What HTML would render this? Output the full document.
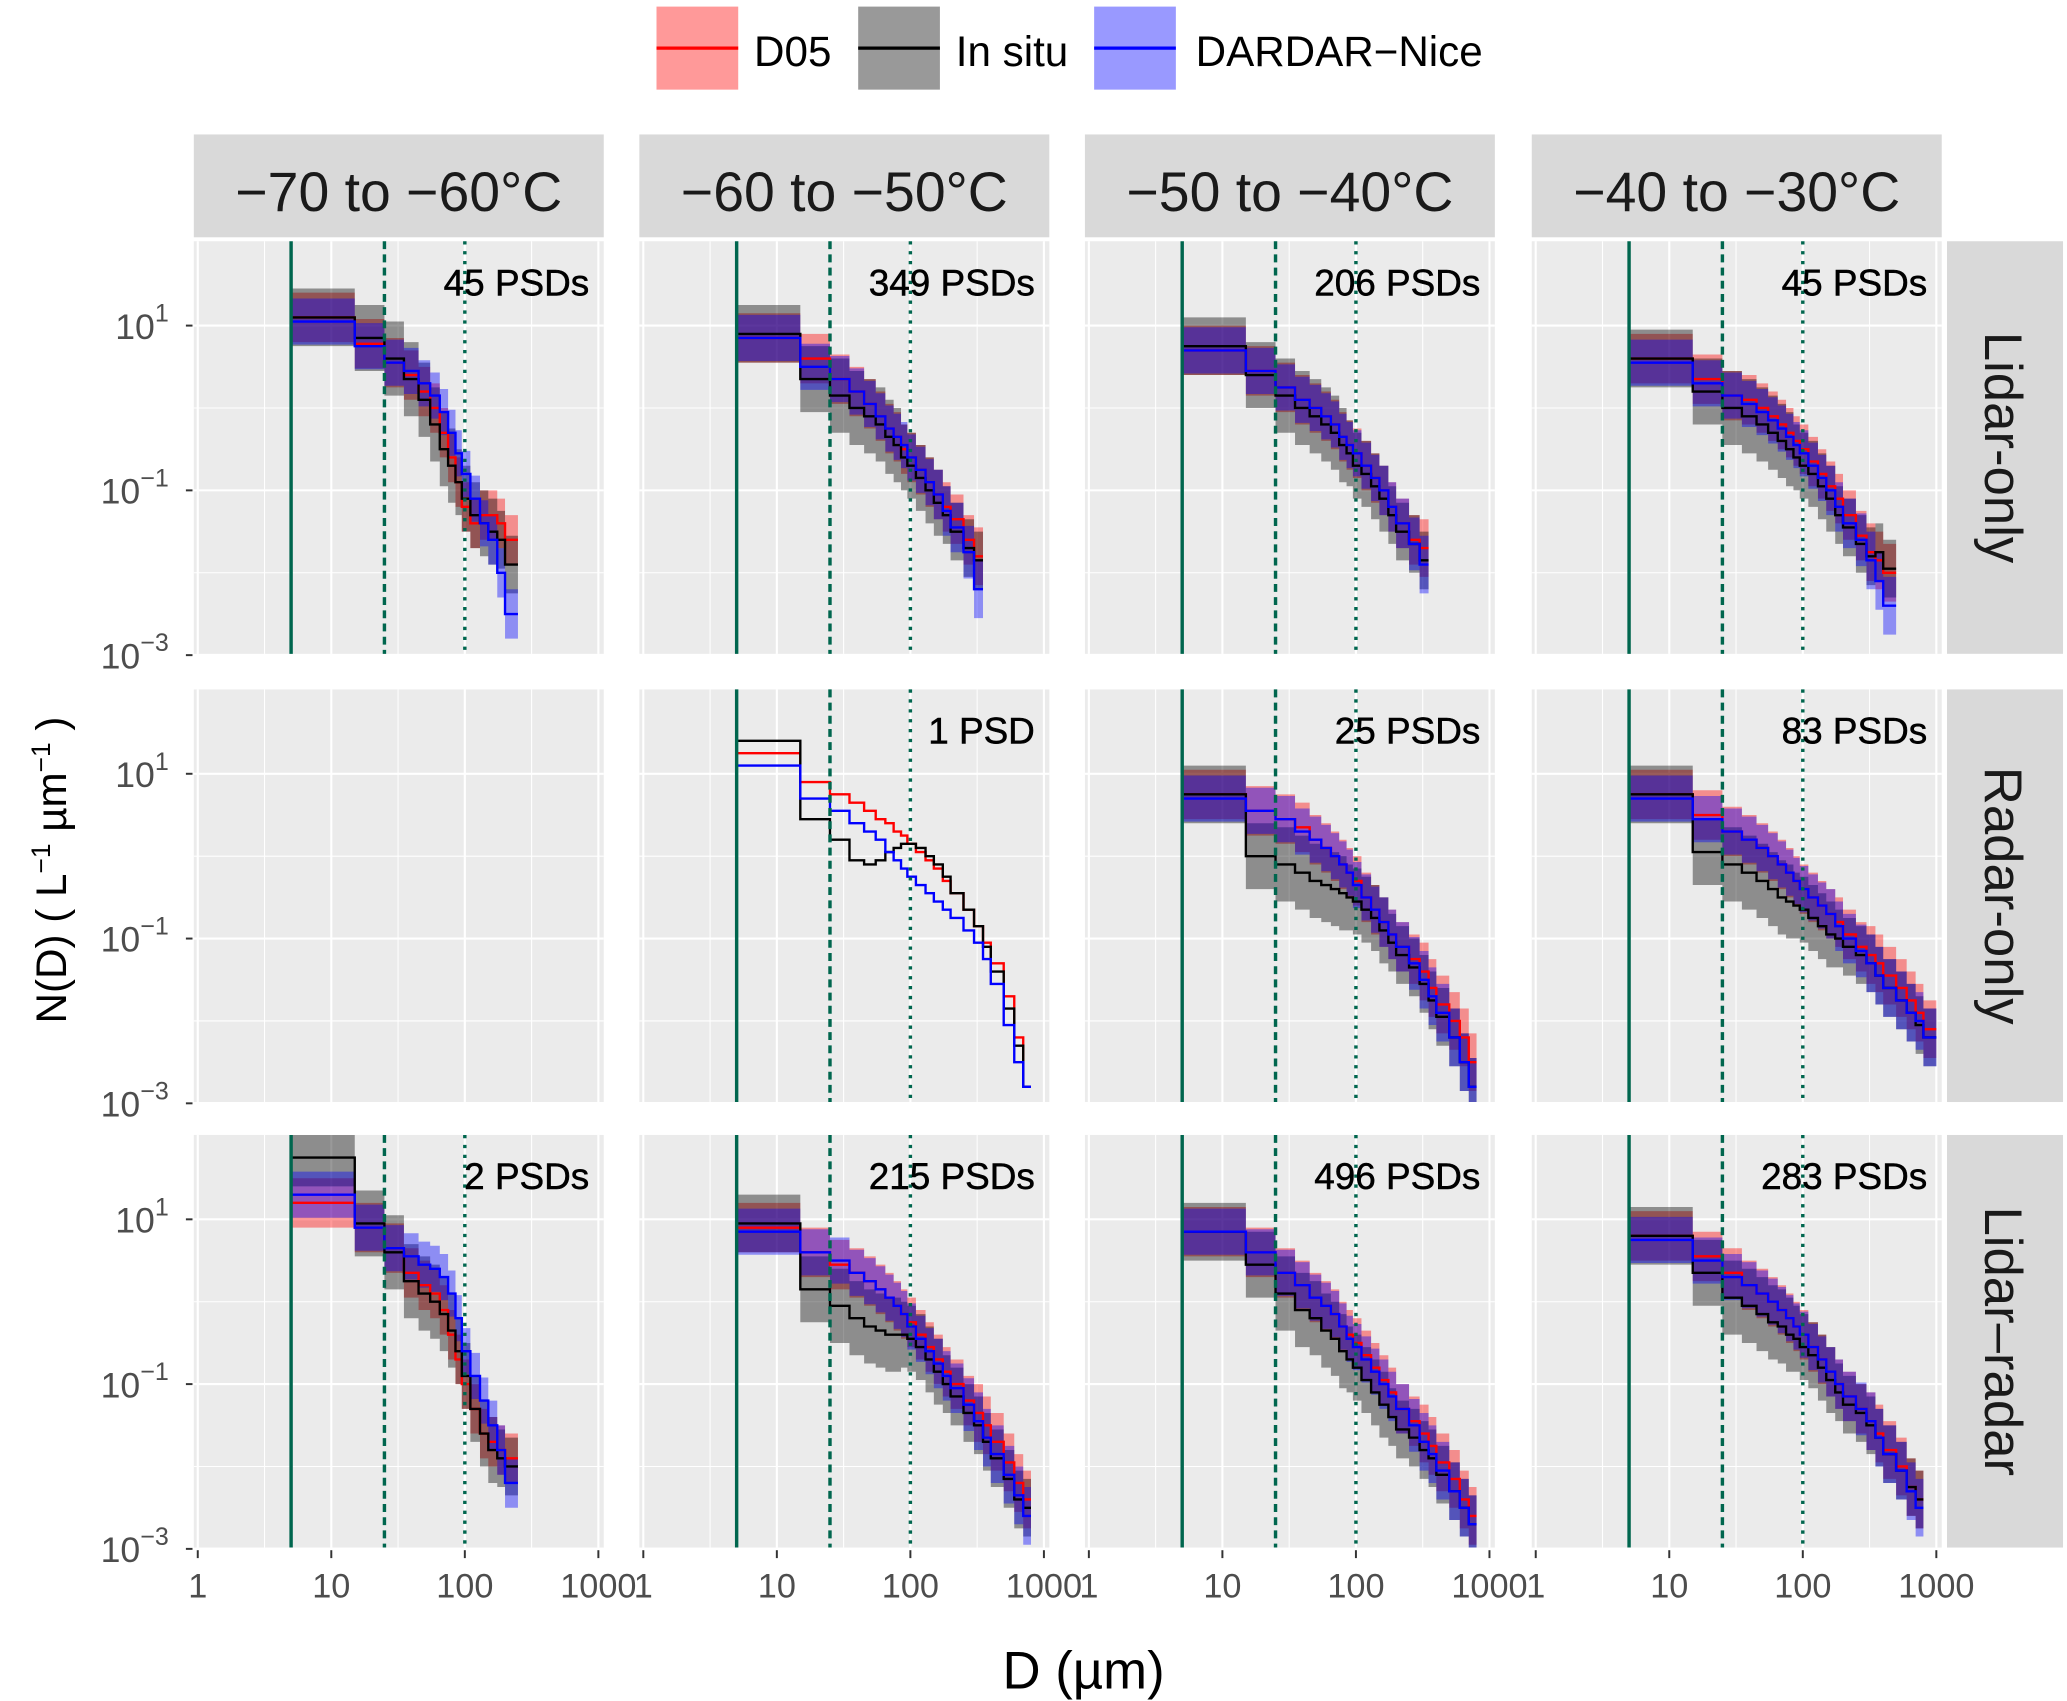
<!DOCTYPE html>
<html><head><meta charset="utf-8"><style>
html,body{margin:0;padding:0;background:#fff;}
svg{display:block;font-family:"Liberation Sans",Arial,sans-serif;}
</style></head><body>
<svg id="chart" width="2067" height="1701" viewBox="0 0 1568 1290.4" xmlns="http://www.w3.org/2000/svg">
<g id="legend">
 <g>
  <rect x="498" y="5" width="62" height="63" fill="rgba(255,0,0,0.4)"/>
  <line x1="498" y1="36.5" x2="560" y2="36.5" stroke="#f00" stroke-width="2.5"/>
  <text x="572" y="50" font-size="32" fill="#000">D05</text>
 </g>
 <g>
  <rect x="651" y="5" width="62" height="63" fill="rgba(0,0,0,0.4)"/>
  <line x1="651" y1="36.5" x2="713" y2="36.5" stroke="#000" stroke-width="2.5"/>
  <text x="725" y="50" font-size="32" fill="#000">In situ</text>
 </g>
 <g>
  <rect x="830" y="5" width="62" height="63" fill="rgba(0,0,255,0.4)"/>
  <line x1="830" y1="36.5" x2="892" y2="36.5" stroke="#00f" stroke-width="2.5"/>
  <text x="907" y="50" font-size="32" fill="#000">DARDAR−Nice</text>
 </g>
</g>
<text x="822" y="1281" font-size="40" text-anchor="middle" fill="#000">D (µm)</text>
<text transform="translate(50,660) rotate(-90)" font-size="32" text-anchor="middle" fill="#000">N(D) ( L<tspan dy="-12" font-size="20">−1</tspan><tspan dy="12"> µm</tspan><tspan dy="-12" font-size="20">−1</tspan><tspan dy="12"> )</tspan></text>
<g id="panels"></g>
</svg>
<script>
// ---- data ----
const edges = [5,15,25,35,45,55,65,75,85,95,110,130,150,175,200,250,300,350,400,500,600,700,800,1000];
const tempLabels = ["−70 to −60°C","−60 to −50°C","−50 to −40°C","−40 to −30°C"];
const rowLabels = ["Lidar-only","Radar-only","Lidar–radar"];
const psdCounts = [["45 PSDs","349 PSDs","206 PSDs","45 PSDs"],["","1 PSD","25 PSDs","83 PSDs"],["2 PSDs","215 PSDs","496 PSDs","283 PSDs"]];
const yTickLogs = [1,-1,-3];
const xTickVals = [1,10,100,1000];
const xTickLabels = ["1","10","100","1000"];
// log10 N(D) medians per panel [row][col]
const d05Med = [
 [[1.1,0.78,0.55,0.4,0.2,0,-0.3,-0.6,-0.9,-1.2,-1.4,-1.3,-1.3,-1.4,-1.6],
  [0.85,0.6,0.35,0.2,0.05,-0.1,-0.25,-0.35,-0.5,-0.6,-0.75,-0.9,-1.05,-1.2,-1.35,-1.6,-1.8],
  [0.7,0.45,0.25,0.1,0,-0.1,-0.2,-0.35,-0.45,-0.55,-0.7,-0.85,-1.0,-1.2,-1.4,-1.6,-1.7],
  [0.6,0.35,0.15,0.1,0,-0.1,-0.2,-0.3,-0.4,-0.5,-0.65,-0.8,-0.95,-1.1,-1.3,-1.55,-1.75,-1.85,-2.0]],
 [[],
  [1.25,0.9,0.75,0.65,0.55,0.45,0.4,0.3,0.25,0.15,0.05,-0.05,-0.15,-0.3,-0.45,-0.65,-0.85,-1.05,-1.3,-1.7,-2.2,-2.8],
  [0.75,0.55,0.45,0.35,0.2,0.1,0,-0.1,-0.2,-0.3,-0.5,-0.65,-0.8,-0.95,-1.1,-1.25,-1.4,-1.6,-1.8,-2.0,-2.2,-2.5],
  [0.75,0.5,0.3,0.2,0.1,0,-0.1,-0.2,-0.3,-0.4,-0.5,-0.6,-0.7,-0.8,-0.95,-1.1,-1.2,-1.3,-1.45,-1.6,-1.75,-1.9,-2.1]],
 [[1.2,0.9,0.65,0.35,0.2,0.1,-0.1,-0.4,-0.7,-1.0,-1.3,-1.6,-1.7,-1.8,-1.9],
  [0.9,0.6,0.45,0.35,0.25,0.15,0.05,-0.05,-0.15,-0.25,-0.4,-0.55,-0.7,-0.85,-1.0,-1.2,-1.35,-1.5,-1.7,-1.95,-2.2,-2.4],
  [0.85,0.6,0.35,0.2,0.05,-0.05,-0.15,-0.3,-0.4,-0.5,-0.65,-0.8,-0.95,-1.1,-1.3,-1.45,-1.6,-1.75,-1.95,-2.15,-2.4,-2.6],
  [0.8,0.55,0.35,0.2,0.1,0,-0.1,-0.2,-0.3,-0.4,-0.55,-0.7,-0.85,-1.0,-1.15,-1.3,-1.45,-1.6,-1.8,-2.0,-2.25,-2.4]]
];
const insituMed = [
 [[1.1,0.85,0.6,0.35,0.1,-0.2,-0.5,-0.7,-0.9,-1.1,-1.3,-1.4,-1.5,-1.6,-1.9],
  [0.9,0.35,0.15,0,-0.1,-0.2,-0.35,-0.45,-0.6,-0.7,-0.85,-1,-1.15,-1.3,-1.5,-1.7,-1.85],
  [0.75,0.4,0.15,0,-0.1,-0.2,-0.3,-0.45,-0.55,-0.7,-0.8,-0.95,-1.1,-1.3,-1.5,-1.65,-1.85],
  [0.6,0.2,0,-0.1,-0.2,-0.3,-0.4,-0.5,-0.6,-0.7,-0.8,-0.95,-1.1,-1.3,-1.45,-1.65,-1.8,-1.75,-1.95]],
 [[],
  [1.4,0.45,0.2,-0.05,-0.1,-0.05,0.05,0.1,0.15,0.15,0.1,0,-0.1,-0.25,-0.45,-0.65,-0.85,-1.1,-1.4,-1.85,-2.3,-2.8],
  [0.75,0,-0.1,-0.2,-0.3,-0.35,-0.4,-0.45,-0.5,-0.55,-0.65,-0.75,-0.9,-1.05,-1.2,-1.35,-1.55,-1.75,-1.95,-2.2,-2.5,-2.8],
  [0.75,0.05,-0.1,-0.2,-0.3,-0.4,-0.5,-0.55,-0.6,-0.65,-0.75,-0.85,-0.95,-1.0,-1.1,-1.2,-1.3,-1.45,-1.6,-1.75,-1.9,-2.05,-2.2]],
 [[1.75,0.95,0.6,0.25,0.1,0,-0.15,-0.35,-0.6,-0.9,-1.3,-1.6,-1.8,-1.9,-2.0],
  [0.95,0.15,-0.05,-0.2,-0.3,-0.35,-0.4,-0.4,-0.4,-0.45,-0.55,-0.7,-0.85,-1.0,-1.15,-1.35,-1.5,-1.7,-1.9,-2.15,-2.4,-2.5],
  [0.85,0.45,0.1,-0.1,-0.2,-0.35,-0.45,-0.6,-0.7,-0.8,-0.95,-1.1,-1.25,-1.4,-1.55,-1.65,-1.8,-1.9,-2.1,-2.3,-2.5,-2.7],
  [0.8,0.35,0.05,-0.05,-0.15,-0.25,-0.3,-0.4,-0.45,-0.55,-0.65,-0.8,-0.95,-1.1,-1.25,-1.35,-1.5,-1.65,-1.85,-2.05,-2.25,-2.4]]
];
const dardarMed = [
 [[1.05,0.75,0.55,0.45,0.3,0.15,-0.05,-0.3,-0.55,-0.8,-1.1,-1.4,-1.6,-2.0,-2.5],
  [0.85,0.5,0.35,0.2,0.05,-0.1,-0.25,-0.35,-0.45,-0.6,-0.75,-0.9,-1.05,-1.25,-1.45,-1.75,-2.2],
  [0.7,0.45,0.25,0.1,0,-0.1,-0.2,-0.35,-0.45,-0.55,-0.7,-0.85,-1.0,-1.2,-1.4,-1.65,-1.9],
  [0.55,0.3,0.15,0.05,-0.05,-0.15,-0.25,-0.35,-0.45,-0.55,-0.7,-0.85,-1.0,-1.2,-1.4,-1.6,-1.85,-2.1,-2.4]],
 [[],
  [1.1,0.7,0.55,0.4,0.3,0.2,0.05,-0.05,-0.15,-0.25,-0.35,-0.45,-0.55,-0.65,-0.75,-0.9,-1.05,-1.25,-1.55,-2.05,-2.5,-2.8],
  [0.7,0.55,0.45,0.3,0.2,0.1,0,-0.1,-0.2,-0.35,-0.5,-0.65,-0.8,-0.95,-1.1,-1.3,-1.5,-1.7,-1.9,-2.2,-2.5,-2.8],
  [0.7,0.45,0.3,0.2,0.1,0,-0.1,-0.2,-0.3,-0.4,-0.5,-0.6,-0.7,-0.85,-1.0,-1.15,-1.3,-1.45,-1.6,-1.75,-1.9,-2.0,-2.2]],
 [[1.3,0.9,0.65,0.55,0.45,0.4,0.3,0.1,-0.2,-0.6,-0.9,-1.2,-1.5,-1.8,-2.2],
  [0.85,0.6,0.5,0.35,0.25,0.15,0.05,-0.05,-0.15,-0.3,-0.45,-0.6,-0.75,-0.9,-1.05,-1.25,-1.45,-1.65,-1.85,-2.1,-2.35,-2.6],
  [0.85,0.6,0.35,0.2,0.05,-0.05,-0.15,-0.3,-0.45,-0.55,-0.7,-0.85,-1.0,-1.15,-1.3,-1.5,-1.7,-1.85,-2.05,-2.3,-2.5,-2.7],
  [0.75,0.5,0.3,0.2,0.1,0,-0.1,-0.2,-0.3,-0.4,-0.55,-0.7,-0.85,-1.0,-1.15,-1.3,-1.45,-1.65,-1.85,-2.05,-2.3,-2.5]]
];
// ribbon half-widths (log10) by bin
const d05Spread = [0.3,0.3,0.3,0.3,0.3,0.3,0.3,0.3,0.3,0.3,0.3,0.3,0.3,0.3,0.3,0.3,0.35,0.35,0.35,0.35,0.35,0.35,0.35];
const insituSpread = [0.35,0.4,0.45,0.45,0.45,0.45,0.45,0.45,0.4,0.4,0.4,0.4,0.4,0.35,0.35,0.35,0.35,0.35,0.35,0.35,0.35,0.35,0.35];
const dardarSpread = [0.28,0.28,0.28,0.28,0.28,0.28,0.28,0.28,0.28,0.28,0.28,0.28,0.3,0.3,0.3,0.32,0.35,0.35,0.35,0.35,0.35,0.35,0.35];

// ---- layout ----
const NS = "http://www.w3.org/2000/svg";
const colX = [147,485,823,1162], rowY = [183,523,861], PW = 311, PH = 313;
const root = document.getElementById('panels');
function mk(tag, attrs, parent){ const e=document.createElementNS(NS,tag); for(const k in attrs) e.setAttribute(k,attrs[k]); (parent||root).appendChild(e); return e; }
function xs(c,D){ return colX[c]+3+Math.log10(D)*101.3; }
function ys(r,lv){ return rowY[r]+64+(1-lv)*62.5; }

for(let c=0;c<4;c++){
  const g=mk('g',{});
  
  
  mk('rect',{x:colX[c],y:102,width:PW,height:78,fill:'#d9d9d9'},g);
  const t=mk('text',{x:colX[c]+PW/2,y:160,'font-size':42,'text-anchor':'middle',fill:'#1a1a1a'},g);
  t.textContent=tempLabels[c];
}
for(let r=0;r<3;r++){
  const g=mk('g',{});
  
  
  mk('rect',{x:1477,y:rowY[r],width:88,height:PH,fill:'#d9d9d9'},g);
  const t=mk('text',{transform:`translate(1506,${rowY[r]+PH/2}) rotate(90)`,'font-size':40,'text-anchor':'middle',fill:'#1a1a1a'},g);
  t.textContent=rowLabels[r];
}

function stepPath(r,c,vals){
  let d='';
  for(let i=0;i<vals.length;i++){
    const x0=xs(c,edges[i]), x1=xs(c,edges[i+1]), y=ys(r,vals[i]);
    d+=(i===0?'M':'L')+x0.toFixed(1)+','+y.toFixed(1)+'L'+x1.toFixed(1)+','+y.toFixed(1);
  }
  return d;
}
function ribbonPath(r,c,vals,spread){
  let up='',lo=[];
  for(let i=0;i<vals.length;i++){
    const x0=xs(c,edges[i]).toFixed(1), x1=xs(c,edges[i+1]).toFixed(1);
    const yu=ys(r,vals[i]+spread[i]).toFixed(1), yl=ys(r,vals[i]-spread[i]).toFixed(1);
    up+=(i===0?'M':'L')+x0+','+yu+'L'+x1+','+yu;
    lo.unshift('L'+x0+','+yl); lo.unshift('L'+x1+','+yl);
  }
  return up+lo.join('')+'Z';
}

for(let r=0;r<3;r++) for(let c=0;c<4;c++){
  const px=colX[c], py=rowY[r];
  const g=mk('g',{});
  
  
  const cp=mk('clipPath',{id:`clip${r}${c}`},g); mk('rect',{x:px,y:py,width:PW,height:PH},cp);
  mk('rect',{x:px,y:py,width:PW,height:PH,fill:'#ebebeb'},g);
  for(let k=0;k<3;k++){ const x=xs(c,Math.pow(10,k+0.5)); mk('line',{x1:x,x2:x,y1:py,y2:py+PH,stroke:'#fff','stroke-width':0.8},g); }
  [0,-2].forEach(v=>{ const y=ys(r,v); mk('line',{x1:px,x2:px+PW,y1:y,y2:y,stroke:'#fff','stroke-width':0.8},g); });
  xTickVals.forEach(v=>{ const x=xs(c,v); mk('line',{x1:x,x2:x,y1:py,y2:py+PH,stroke:'#fff','stroke-width':1.6},g); });
  yTickLogs.forEach(v=>{ const y=ys(r,v); mk('line',{x1:px,x2:px+PW,y1:y,y2:y,stroke:'#fff','stroke-width':1.6},g); });
  const dg=mk('g',{'clip-path':`url(#clip${r}${c})`},g);
  const d=d05Med[r][c], s=insituMed[r][c], n=dardarMed[r][c];
  const single = (r===1&&c===1);
  if(d.length){
    if(!single){
      const a=mk('path',{d:ribbonPath(r,c,d,d05Spread),fill:'rgba(255,0,0,0.4)'},dg);
       
      const b=mk('path',{d:ribbonPath(r,c,s,insituSpread),fill:'rgba(0,0,0,0.4)'},dg);
       
      const e=mk('path',{d:ribbonPath(r,c,n,dardarSpread),fill:'rgba(0,0,255,0.4)'},dg);
       
    }
    const l1=mk('path',{d:stepPath(r,c,d),fill:'none',stroke:'#f00','stroke-width':1.8},dg);
     
    const l2=mk('path',{d:stepPath(r,c,s),fill:'none',stroke:'#000','stroke-width':1.8},dg);
     
    const l3=mk('path',{d:stepPath(r,c,n),fill:'none',stroke:'#00f','stroke-width':1.8},dg);
     
    const green='#00664e';
    let x=xs(c,5); mk('line',{x1:x,x2:x,y1:py,y2:py+PH,stroke:green,'stroke-width':2.6},g);
    x=xs(c,25); mk('line',{x1:x,x2:x,y1:py,y2:py+PH,stroke:green,'stroke-width':2.6,'stroke-dasharray':'6,4'},g);
    x=xs(c,100); mk('line',{x1:x,x2:x,y1:py,y2:py+PH,stroke:green,'stroke-width':2.6,'stroke-dasharray':'2.5,5'},g);
  }
  if(psdCounts[r][c]){
    const t=mk('text',{x:px+PW-11,y:py+41,'font-size':28,'text-anchor':'end',fill:'#000',stroke:'#000','stroke-width':0.4},g);
     
    t.textContent=psdCounts[r][c];
  }
  if(c===0){
    yTickLogs.forEach(v=>{
      const y=ys(r,v);
      mk('line',{x1:141,x2:146,y1:y,y2:y,stroke:'#333','stroke-width':1.5},g);
      const t=mk('text',{x:128,y:y+10,'font-size':27,'text-anchor':'end',fill:'#4d4d4d'},g);
       
      t.innerHTML='10<tspan dy="-13" font-size="19">'+(v<0?'−'+(-v):v)+'</tspan>';
    });
  }
  if(r===2){
    xTickVals.forEach((v,i)=>{
      const x=xs(c,v);
      mk('line',{x1:x,x2:x,y1:py+PH+2,y2:py+PH+8,stroke:'#333','stroke-width':1.5},g);
      const t=mk('text',{x:x,y:1212,'font-size':26,'text-anchor':'middle',fill:'#4d4d4d'},g);
       
      t.textContent=xTickLabels[i];
    });
  }
}
</script>
</body></html>
